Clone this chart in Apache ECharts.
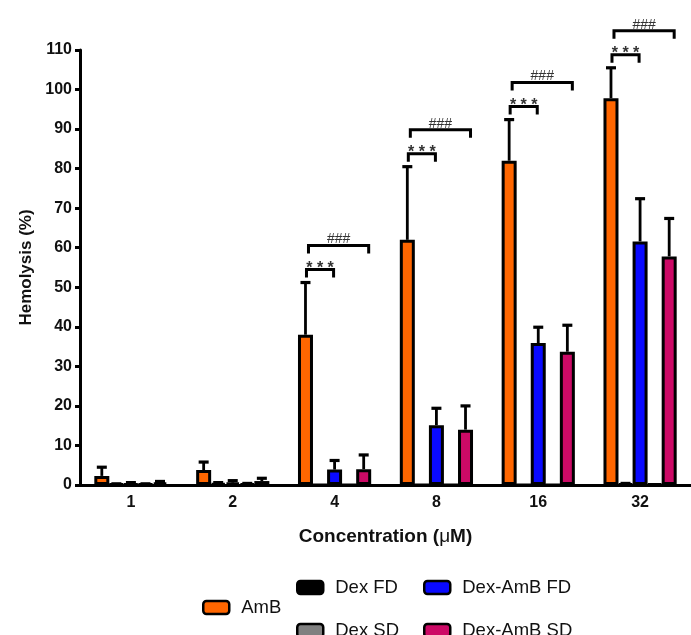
<!DOCTYPE html>
<html>
<head>
<meta charset="utf-8">
<title>Hemolysis</title>
<script src="https://cdn.jsdelivr.net/npm/echarts@6/dist/echarts.min.js"></script>
<style>
  html, body { margin: 0; padding: 0; background: #fff; }
  #chart { width: 691px; height: 635px; }
</style>
</head>
<body>
<div id="chart"></div>
<script>
// Concentrations (µM) on the category axis
const categories = ['1', '2', '4', '8', '16', '32'];

// Mean hemolysis (%) and upper SD per formulation
const amb         = [2.3, 3.8, 38.0, 62.0, 82.0, 97.8];
const ambErr      = [2.2, 2.0, 13.2, 18.5, 10.4, 7.7];
const dexFd       = [0.2, 0.4, 0, 0, 0, 0.3];
const dexFdErr    = [0.1, 0.2, 0, 0, 0, 0.1];
const dexAmbFd    = [0.3, 0.6, 3.9, 15.1, 35.9, 61.6];
const dexAmbFdErr = [0.3, 0.5, 2.3, 4.3, 4.0, 10.8];
const dexSd       = [0.2, 0.3, 0, 0, 0, 0.3];
const dexSdErr    = [0.1, 0.1, 0, 0, 0, 0];
const dexAmbSd    = [0.6, 1.0, 4.0, 14.0, 33.7, 57.8];
const dexAmbSdErr = [0.3, 0.7, 3.6, 6.0, 6.7, 9.6];

// Significance marks: AmB vs Dex-AmB FD (***) and AmB vs Dex-AmB SD (###)
const starMarks = ['', '', '***', '***', '***', '***'];
const hashMarks = ['', '', '###', '###', '###', '###'];

const FONT = "'Liberation Sans', Arial, sans-serif";
const BAR_W = 15;
const BAR_GAP = -0.45;
const SLOT = BAR_W + BAR_GAP;

// Bars are drawn in this order inside each group (middle bar sits on the tick)
const seriesDefs = [
  { name: 'AmB',        values: amb,      errs: ambErr,      color: '#FF6600' },
  { name: 'Dex FD',     values: dexFd,    errs: dexFdErr,    color: '#000000' },
  { name: 'Dex-AmB FD', values: dexAmbFd, errs: dexAmbFdErr, color: '#0A0AFF' },
  { name: 'Dex SD',     values: dexSd,    errs: dexSdErr,    color: '#808080' },
  { name: 'Dex-AmB SD', values: dexAmbSd, errs: dexAmbSdErr, color: '#CC0A66' }
];

const barSeries = seriesDefs.map(d => ({
  name: d.name,
  type: 'bar',
  data: d.values,
  barWidth: BAR_W,
  barGap: (BAR_GAP / BAR_W * 100) + '%',
  itemStyle: { color: d.color, borderColor: '#000', borderWidth: 3 },
  z: 2
}));

// [category index, series slot, mean, sd]
const errData = [];
seriesDefs.forEach((d, s) => {
  d.values.forEach((v, i) => {
    if (d.errs[i] > 0) errData.push([i, s, v, d.errs[i]]);
  });
});

const errorSeries = {
  name: 'sd',
  type: 'custom',
  data: errData,
  encode: { x: 0, y: 2 },
  z: 3,
  silent: true,
  renderItem: function (params, api) {
    const cat = api.value(0), s = api.value(1), mean = api.value(2), err = api.value(3);
    const base = api.coord([cat, mean]);
    const top = api.coord([cat, mean + err]);
    const x = base[0] + (s - 2) * SLOT;
    return {
      type: 'group',
      children: [
        { type: 'line', shape: { x1: x, y1: base[1], x2: x, y2: top[1] }, style: { stroke: '#000', lineWidth: 2.8 } },
        { type: 'line', shape: { x1: x - 5, y1: top[1], x2: x + 5, y2: top[1] }, style: { stroke: '#000', lineWidth: 3.2 } }
      ]
    };
  }
};

// Brackets sit above the AmB error bar of each group
const bracketData = [];
categories.forEach((c, i) => {
  if (starMarks[i] || hashMarks[i]) bracketData.push([i, amb[i] + ambErr[i]]);
});

const bracketSeries = {
  name: 'significance',
  type: 'custom',
  data: bracketData,
  encode: { x: 0, y: 1 },
  z: 4,
  silent: true,
  clip: false,
  renderItem: function (params, api) {
    const cat = api.value(0);
    const cap = api.coord([cat, api.value(1)]);
    const cx = cap[0];
    const ambX = cx - 2 * SLOT;
    const fdX = cx;
    const sdX = cx + 2 * SLOT;
    const yStar = cap[1] - 13;
    const yHash = yStar - 24;
    const leg = 8;
    const lineStyle = { stroke: '#000', lineWidth: 3, fill: null };
    const x1 = ambX + 1, x2 = fdX - 1;
    const h1 = ambX + 3, h2 = sdX + 5;
    return {
      type: 'group',
      children: [
        { type: 'polyline', shape: { points: [[x1, yStar + leg], [x1, yStar], [x2, yStar], [x2, yStar + leg]] }, style: lineStyle },
        { type: 'polyline', shape: { points: [[h1, yHash + leg], [h1, yHash], [h2, yHash], [h2, yHash + leg]] }, style: lineStyle },
        { type: 'text', style: { text: starMarks[cat].split('').join(' '), x: (x1 + x2) / 2, y: yStar - 1, align: 'center', verticalAlign: 'middle', fontSize: 16, fontWeight: 'bold', fontFamily: FONT, fill: '#333' } },
        { type: 'text', style: { text: hashMarks[cat], x: (h1 + h2) / 2, y: yHash - 6, align: 'center', verticalAlign: 'middle', fontSize: 14, fontFamily: FONT, fill: '#333' } }
      ]
    };
  }
};

function legendItem(name, left, top) {
  return {
    data: [name],
    left: left,
    top: top,
    icon: 'roundRect',
    itemWidth: 26,
    itemHeight: 13,
    selectedMode: false,
    itemStyle: { borderColor: '#000', borderWidth: 2.5 },
    textStyle: { fontSize: 18.5, color: '#111', fontFamily: FONT, padding: [0, 0, 0, 7] }
  };
}

const chart = echarts.init(document.getElementById('chart'), null, { renderer: 'canvas' });
chart.setOption({
  animation: false,
  backgroundColor: '#fff',
  grid: { left: 80, top: 50, width: 614, height: 435 },
  legend: [
    legendItem('AmB', 197, 593),
    legendItem('Dex FD', 291, 573),
    legendItem('Dex SD', 291, 616),
    legendItem('Dex-AmB FD', 418, 573),
    legendItem('Dex-AmB SD', 418, 616)
  ],
  xAxis: {
    type: 'category',
    data: categories,
    name: 'Concentration ({m|μ}M)',
    nameLocation: 'middle',
    nameGap: 42,
    nameTextStyle: {
      fontSize: 19, fontWeight: 'bold', color: '#111', fontFamily: FONT,
      rich: { m: { fontSize: 19, fontWeight: 'normal', color: '#111', fontFamily: FONT } }
    },
    axisLine: { lineStyle: { color: '#000', width: 3 } },
    axisTick: { alignWithLabel: true, length: 6, lineStyle: { color: '#000', width: 3 } },
    axisLabel: { fontSize: 16, fontWeight: 'bold', color: '#111', fontFamily: FONT, margin: 10 },
    splitLine: { show: false }
  },
  yAxis: {
    type: 'value',
    min: 0,
    max: 110,
    interval: 10,
    name: 'Hemolysis (%)',
    nameLocation: 'middle',
    nameRotate: 90,
    nameGap: 40,
    nameTextStyle: { fontSize: 17, fontWeight: 'bold', color: '#111', fontFamily: FONT },
    axisLine: { show: true, lineStyle: { color: '#000', width: 3 } },
    axisTick: { show: true, length: 5, lineStyle: { color: '#000', width: 3 } },
    axisLabel: { fontSize: 16, fontWeight: 'bold', color: '#111', fontFamily: FONT, margin: 8 },
    splitLine: { show: false }
  },
  series: barSeries.concat([errorSeries, bracketSeries])
});
</script>
</body>
</html>
